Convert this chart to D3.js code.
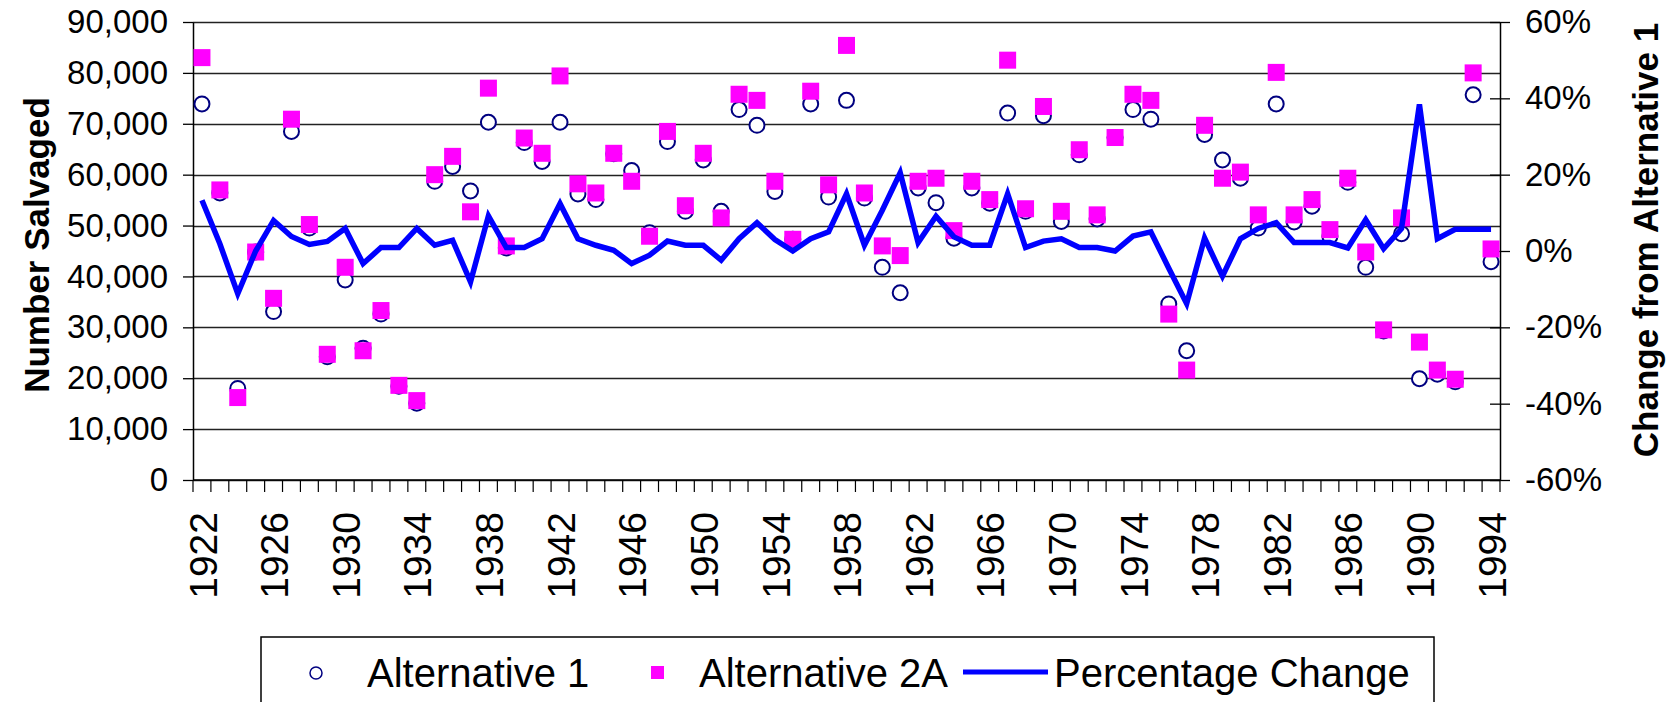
<!DOCTYPE html>
<html>
<head>
<meta charset="utf-8">
<script src="https://cdn.jsdelivr.net/npm/d3@7"></script>
<style>
  html, body { margin: 0; padding: 0; background: #fff; }
  svg { display: block; font-family: "Liberation Sans", Arial, sans-serif; }
</style>
</head>
<body>
<svg id="chart" width="1669" height="702"></svg>
<script>
var years = [1922, 1923, 1924, 1925, 1926, 1927, 1928, 1929, 1930, 1931, 1932, 1933, 1934, 1935, 1936, 1937,
    1938, 1939, 1940, 1941, 1942, 1943, 1944, 1945, 1946, 1947, 1948, 1949, 1950, 1951, 1952, 1953, 1954,
    1955, 1956, 1957, 1958, 1959, 1960, 1961, 1962, 1963, 1964, 1965, 1966, 1967, 1968, 1969, 1970, 1971,
    1972, 1973, 1974, 1975, 1976, 1977, 1978, 1979, 1980, 1981, 1982, 1983, 1984, 1985, 1986, 1987, 1988,
    1989, 1990, 1991, 1992, 1993, 1994];

var alt1 = [73900, 56400, 18000, 44800, 33100, 68500, 49500, 24200, 39300, 25900, 32600, 18400, 15100, 58700,
    61600, 56800, 70300, 45600, 66300, 62600, 70300, 56200, 55100, 64100, 60800, 48600, 66500, 52800, 62900,
    52800, 72800, 69700, 56700, 47300, 73900, 55600, 74600, 55400, 41800, 36800, 57400, 54500, 47500, 57400,
    54400, 72100, 52800, 71600, 50800, 63900, 51300, 67300, 72800, 70900, 34600, 25400, 67900, 62900, 59300,
    49500, 73900, 50700, 53800, 47900, 58500, 41800, 29300, 48400, 19900, 20800, 19300, 75700, 42900];

var alt2A = [83000, 57000, 16200, 44800, 35700, 70900, 50200, 24700, 41800, 25400, 33300, 18600, 15600, 60000,
    63600, 52700, 77000, 46000, 67200, 64200, 79400, 58200, 56400, 64200, 58700, 47900, 68500, 53900, 64200,
    51500, 75800, 74600, 58700, 47300, 76400, 58000, 85400, 56400, 46000, 44100, 58700, 59300, 49000, 58700,
    55100, 82500, 53300, 73400, 52800, 64900, 52100, 67300, 75800, 74600, 32600, 21600, 69700, 59300, 60500,
    52100, 80100, 52100, 55100, 49200, 59300, 44800, 29500, 51500, 27100, 21600, 19800, 80000, 45400];

var pctChange = [0.133, 0.019, -0.112, 0.000, 0.080, 0.038, 0.017, 0.025, 0.059, -0.033, 0.009, 0.009, 0.059,
    0.015, 0.028, -0.081, 0.092, 0.009, 0.009, 0.032, 0.124, 0.032, 0.015, 0.002, -0.033, -0.011, 0.026, 0.015,
    0.015, -0.024, 0.032, 0.074, 0.030, 0.000, 0.032, 0.050, 0.150, 0.015, 0.107, 0.205, 0.022, 0.091, 0.037,
    0.015, 0.015, 0.150, 0.009, 0.026, 0.032, 0.009, 0.009, 0.000, 0.039, 0.050, -0.045, -0.138, 0.034, -0.066,
    0.032, 0.059, 0.074, 0.022, 0.022, 0.022, 0.008, 0.082, 0.006, 0.059, 0.384, 0.032, 0.057, 0.057, 0.057];

var yearLabels = [1922, 1926, 1930, 1934, 1938, 1942, 1946, 1950, 1954, 1958, 1962, 1966, 1970, 1974, 1978,
    1982, 1986, 1990, 1994];
var leftTicks = [0, 10000, 20000, 30000, 40000, 50000, 60000, 70000, 80000, 90000];
var rightTicks = [-0.6, -0.4, -0.2, 0, 0.2, 0.4, 0.6];

var seriesNames = ['Alternative 1', 'Alternative 2A', 'Percentage Change'];

function draw() {
    var left = 193, right = 1500, plotTop = 22, bottom = 480;
    var svg = d3.select('#chart');

    var x = d3.scaleBand().domain(years).range([left, right]).padding(0);
    var yL = d3.scaleLinear().domain([0, 90000]).range([bottom, plotTop]);
    var yR = d3.scaleLinear().domain([-0.6, 0.6]).range([bottom, plotTop]);

    function cx(d) { return x(d) + x.bandwidth() / 2; }

    var fmt = d3.format(',');
    // plain hyphen for negatives, like the original
    var pct = function (d) { return d3.format('.0%')(d).replace('\u2212', '-'); };

    // horizontal grid
    svg.append('g').attr('class', 'grid')
        .selectAll('line').data(leftTicks).enter().append('line')
        .attr('x1', left).attr('x2', right)
        .attr('y1', function (d) { return Math.round(yL(d)) + 0.5; })
        .attr('y2', function (d) { return Math.round(yL(d)) + 0.5; })
        .attr('stroke', '#222').attr('stroke-width', 1.3);

    // left axis
    var gL = svg.append('g').attr('transform', 'translate(' + left + ',0)')
        .call(d3.axisLeft(yL).tickValues(leftTicks).tickSize(10).tickSizeOuter(0).tickFormat(fmt));
    gL.select('.domain').attr('stroke', '#000').attr('stroke-width', 1.5);
    gL.selectAll('.tick line').attr('stroke', '#000').attr('stroke-width', 1.3);
    gL.selectAll('.tick text').attr('x', -25).attr('font-size', 33).attr('fill', '#000')
        .attr('font-family', '"Liberation Sans", Arial, sans-serif');

    // right axis
    var gR = svg.append('g').attr('transform', 'translate(' + right + ',0)')
        .call(d3.axisRight(yR).tickValues(rightTicks).tickSize(10).tickSizeOuter(0).tickFormat(pct));
    gR.select('.domain').attr('stroke', '#000').attr('stroke-width', 1.5);
    gR.selectAll('.tick line').attr('x1', -10).attr('stroke', '#000').attr('stroke-width', 1.3);
    gR.selectAll('.tick text').attr('x', 25).attr('font-size', 33).attr('fill', '#000')
        .attr('font-family', '"Liberation Sans", Arial, sans-serif');

    // bottom axis: a tick at each category edge
    var gB = svg.append('g');
    gB.append('line').attr('x1', left).attr('x2', right).attr('y1', bottom).attr('y2', bottom)
        .attr('stroke', '#000').attr('stroke-width', 1.5);
    gB.selectAll('.edge').data(years.concat(['end'])).enter().append('line')
        .attr('class', 'edge')
        .attr('x1', function (d) { return d === 'end' ? right : x(d); })
        .attr('x2', function (d) { return d === 'end' ? right : x(d); })
        .attr('y1', bottom).attr('y2', bottom + 12)
        .attr('stroke', '#000').attr('stroke-width', 1.2);
    gB.selectAll('.lbl').data(yearLabels).enter().append('text')
        .attr('class', 'lbl')
        .attr('transform', function (d) { return 'translate(' + (cx(d) + 1) + ',' + (bottom + 32) + ') rotate(-90)'; })
        .attr('text-anchor', 'end').attr('dy', '0.35em')
        .attr('font-size', 39).attr('fill', '#000')
        .text(function (d) { return d; });

    // axis titles
    svg.append('text')
        .attr('transform', 'translate(37,245) rotate(-90)')
        .attr('text-anchor', 'middle').attr('dy', '0.35em')
        .attr('font-size', 35).attr('font-weight', 'bold')
        .text('Number Salvaged');
    svg.append('text')
        .attr('transform', 'translate(1646,240) rotate(-90)')
        .attr('text-anchor', 'middle').attr('dy', '0.35em')
        .attr('font-size', 35).attr('font-weight', 'bold')
        .text('Change from Alternative 1');

    // Alternative 1 circles
    svg.append('g').selectAll('circle').data(years).enter().append('circle')
        .attr('cx', cx)
        .attr('cy', function (d, i) { return yL(alt1[i]); })
        .attr('r', 7.5)
        .attr('fill', '#fff').attr('stroke', '#000080').attr('stroke-width', 2);

    // Alternative 2A squares
    var sq = 17;
    svg.append('g').selectAll('rect').data(years).enter().append('rect')
        .attr('x', function (d) { return cx(d) - sq / 2; })
        .attr('y', function (d, i) { return yL(alt2A[i]) - sq / 2; })
        .attr('width', sq).attr('height', sq)
        .attr('fill', '#ff00ff');

    // Percentage change line on the right axis
    var line = d3.line()
        .x(function (d) { return cx(d); })
        .y(function (d, i) { return yR(pctChange[i]); });
    svg.append('path').datum(years)
        .attr('d', line)
        .attr('fill', 'none').attr('stroke', '#0000ff').attr('stroke-width', 5.5)
        .attr('stroke-linejoin', 'miter');

    // legend
    var lg = svg.append('g');
    lg.append('rect').attr('x', 261).attr('y', 637).attr('width', 1173).attr('height', 80)
        .attr('fill', '#fff').attr('stroke', '#000').attr('stroke-width', 1.5);
    lg.append('circle').attr('cx', 316).attr('cy', 673).attr('r', 6)
        .attr('fill', '#fff').attr('stroke', '#000080').attr('stroke-width', 1.5);
    lg.append('rect').attr('x', 651).attr('y', 666).attr('width', 13).attr('height', 13).attr('fill', '#ff00ff');
    lg.append('line').attr('x1', 963).attr('x2', 1048).attr('y1', 672).attr('y2', 672)
        .attr('stroke', '#0000ff').attr('stroke-width', 5);
    var legendX = [367, 699, 1054];
    lg.selectAll('.lt').data(seriesNames).enter().append('text')
        .attr('class', 'lt')
        .attr('x', function (d, i) { return legendX[i]; })
        .attr('y', 687)
        .attr('font-size', 40).attr('fill', '#000')
        .text(function (d) { return d; });
}

draw();
</script>
</body>
</html>
